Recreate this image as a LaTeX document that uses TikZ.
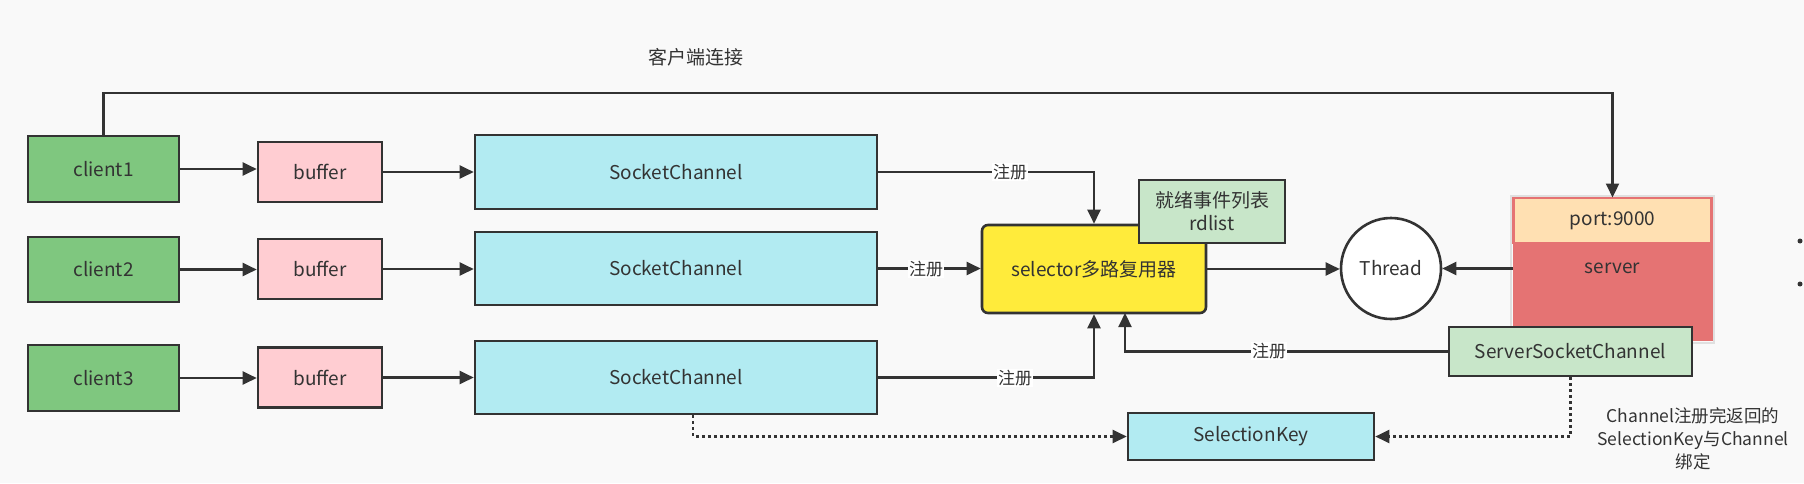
\documentclass[tikz,border=0pt]{standalone}
\usepackage{fontspec}
\setmainfont{Noto Sans CJK SC}
\usetikzlibrary{arrows.meta,shapes.geometric}
\definecolor{bg}{HTML}{F9F9F9}
\definecolor{ink}{HTML}{333333}
\definecolor{cgreen}{HTML}{7FC77F}
\definecolor{bpink}{HTML}{FFCDD2}
\definecolor{scyan}{HTML}{B2EBF2}
\definecolor{syel}{HTML}{FFEB3B}
\definecolor{lgreen}{HTML}{C8E6C9}
\definecolor{sred}{HTML}{E57373}
\definecolor{porange}{HTML}{FFE0B2}
\tikzset{
  box/.style={draw=ink, line width=2.6pt, inner sep=0pt, text=ink, font=\fontsize{19}{23}\selectfont},
  arr/.style={draw=ink, line width=2.2pt, -{Triangle[length=14pt,width=13pt]}},
  dsh/.style={draw=ink, line width=2.2pt, dash pattern=on 3pt off 3pt, -{Triangle[length=14pt,width=13pt]}},
  lbl/.style={fill=white, inner sep=1pt, text=ink, font=\fontsize{17}{20}\selectfont},
}
\begin{document}
\begin{tikzpicture}[x=1pt,y=-1pt]
\useasboundingbox (0,0) rectangle (1804,483);
\fill[bg] (0,0) rectangle (1804,483);
% clients
\node[box, fill=cgreen, minimum width=151pt, minimum height=66pt] (c1) at (103.5,169) {client1};
\node[box, fill=cgreen, minimum width=151pt, minimum height=65pt] (c2) at (103.5,269.5) {client2};
\node[box, fill=cgreen, minimum width=151pt, minimum height=66pt] (c3) at (103.5,378) {client3};
% buffers
\node[box, fill=bpink, minimum width=124pt, minimum height=60pt] (b1) at (320,172) {buffer};
\node[box, fill=bpink, minimum width=124pt, minimum height=60pt] (b2) at (320,269) {buffer};
\node[box, fill=bpink, minimum width=124pt, minimum height=60pt] (b3) at (320,377.5) {buffer};
% socket channels
\node[box, fill=scyan, minimum width=402pt, minimum height=74pt] (s1) at (676,172) {SocketChannel};
\node[box, fill=scyan, minimum width=402pt, minimum height=73pt] (s2) at (676,268.5) {SocketChannel};
\node[box, fill=scyan, minimum width=402pt, minimum height=73pt] (s3) at (676,377.5) {SocketChannel};
% selector
\node[box, fill=syel, rounded corners=6pt, minimum width=224pt, minimum height=88pt] (sel) at (1094,269) {selector多路复用器};
\node[box, fill=lgreen, minimum width=146pt, minimum height=63pt, align=center] (rd) at (1212,211.5) {就绪事件列表\\rdlist};
% thread
\node[box, ellipse, fill=white, minimum width=100pt, minimum height=101pt] (th) at (1391,268.5) {Thread};
% server
\draw[line width=1.5pt, draw=black!12] (1511,196) rectangle (1714,343);
\node[fill=sred, draw=sred, line width=1pt, minimum width=199pt, minimum height=142pt, inner sep=0pt] (srv) at (1612.5,269) {};
\node[fill=porange, draw=sred, line width=2.2pt, minimum width=198pt, minimum height=45pt, inner sep=0pt, text=ink, font=\fontsize{19}{23}\selectfont] (port) at (1612.5,220.5) {port:9000};
\node[text=ink, font=\fontsize{19}{23}\selectfont, inner sep=0pt] (srvt) at (1612.5,268) {server};
% server socket channel
\node[box, fill=lgreen, minimum width=243pt, minimum height=49pt] (ssc) at (1570.5,351.5) {ServerSocketChannel};
% selection key
\node[box, fill=scyan, minimum width=246pt, minimum height=47pt] (sk) at (1251,436.5) {SelectionKey};
% title
\node[text=ink, font=\fontsize{19}{23}\selectfont] (title) at (696,57) {客户端连接};
\coordinate (topy) at (0,93);
\draw[arr] (c1.north) -- (c1.north |- topy) -| (srv.north);
% row arrows
\draw[arr] (c1.east) -- (c1.east -| b1.west);
\draw[arr] (b1.east) -- (s1.west);
\draw[arr] (c2.east) -- (c2.east -| b2.west);
\draw[arr] (b2.east) -- (b2.east -| s2.west);
\draw[arr] (c3.east) -- (c3.east -| b3.west);
\draw[arr] (b3.east) -- (b3.east -| s3.west);
% registrations
\draw[arr] (s1.east) -- (s1.east -| sel.north) -- (sel.north);
\node[lbl] (l1) at (1010,172) {注册};
\draw[arr] (s2.east) -- (s2.east -| sel.west);
\node[lbl] (l2) at (926,269) {注册};
\draw[arr] (s3.east) -- (s3.east -| sel.south) -- (sel.south);
\node[lbl] (l3) at (1015,378) {注册};
\coordinate (selb) at (1125,313);
\draw[arr] (ssc.west) -- (ssc.west -| selb) -- (selb);
\node[lbl] (l4) at (1269,351) {注册};
% thread arrows
\draw[arr] (sel.east) -- (sel.east -| th.west);
\draw[arr] (srv.west |- th.east) -- (th.east);
% dashed
\draw[dsh] ([xshift=17pt]s3.south) |- (sk.west);
\draw[dsh] (ssc.south) |- (sk.east);
% note
\node[text=ink, font=\fontsize{17.5}{23}\selectfont, align=center, inner sep=0pt] (note) at (1693,439) {Channel注册完返回的\\SelectionKey与Channel\\绑定};
% cropped marks at the right edge
\fill[ink] (1800,241) circle (2.5pt);
\fill[ink] (1800,284) circle (2.5pt);
\end{tikzpicture}
\end{document}
